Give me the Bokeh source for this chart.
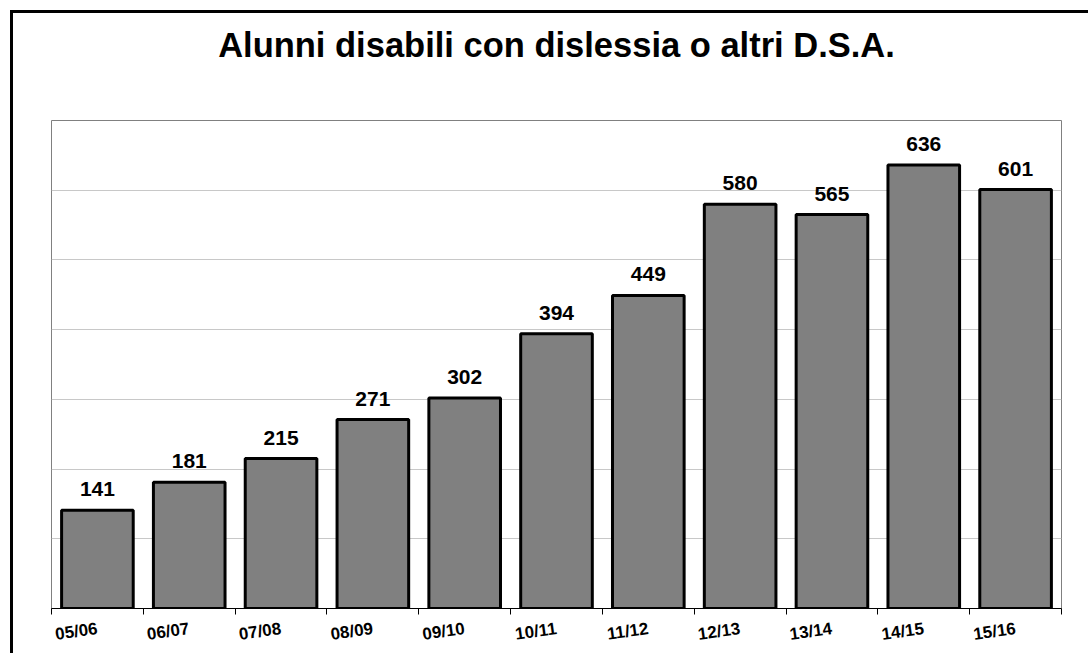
from bokeh.plotting import figure
from bokeh.models import Range1d, FixedTicker, ColumnDataSource, Title
from bokeh.core.properties import value
from bokeh.embed import file_html
from bokeh.resources import INLINE

years = ["05/06", "06/07", "07/08", "08/09", "09/10", "10/11",
         "11/12", "12/13", "13/14", "14/15", "15/16"]
counts = [141, 181, 215, 271, 302, 394, 449, 580, 565, 636, 601]
grid_values = [100, 200, 300, 400, 500, 600]
title_text = "Alunni disabili con dislessia o altri D.S.A."

FONT = "Liberation Sans"
Y_MAX = 700

xs = list(range(len(years)))
src = ColumnDataSource(data=dict(x=xs, top=counts, label=[str(c) for c in counts]))

W, H = 1075, 640
ML, MR, MT, MB = 38, 30, 107, 46

p = figure(width=W, height=H, output_backend="svg", toolbar_location=None,
           x_range=Range1d(-0.5, len(years) - 0.5), y_range=Range1d(0, Y_MAX),
           min_border_left=ML, min_border_right=MR, min_border_top=MT,
           min_border_bottom=MB, background_fill_color="white",
           border_fill_color="white")
p.styles = {"margin-left": "10px", "margin-top": "10px", "box-sizing": "content-box",
            "border-left": "3px solid black", "border-top": "3px solid black"}

# main title (outermost panel) and an empty spacer panel between it and the frame
p.title.text = title_text
p.title.align = "center"
p.title.text_font = FONT
p.title.text_font_style = "bold"
p.title.text_font_size = "34.5px"
p.title.text_color = "black"
p.title.standoff = 18
p.add_layout(Title(text=" ", text_font_size="1px", standoff=45), "above")

p.outline_line_color = "#808080"
p.outline_line_width = 1

p.xgrid.visible = False
p.ygrid.ticker = FixedTicker(ticks=grid_values)
p.ygrid.grid_line_color = "#c8c8c8"
p.ygrid.grid_line_width = 1
p.yaxis.visible = False

xa = p.xaxis[0]
xa.ticker = FixedTicker(ticks=xs, minor_ticks=[i - 0.5 for i in range(len(years) + 1)])
xa.major_label_overrides = {i: y for i, y in zip(xs, years)}
xa.major_tick_out = 0
xa.major_tick_in = 0
xa.minor_tick_out = 6
xa.minor_tick_in = 0
xa.minor_tick_line_color = "black"
xa.axis_line_color = "black"
xa.axis_line_width = 1
xa.major_label_orientation = 0.14
xa.major_label_standoff = 14
xa.major_label_text_font = FONT
xa.major_label_text_font_style = "bold"
xa.major_label_text_font_size = "17px"
xa.major_label_text_color = "black"

p.vbar(x="x", top="top", width=0.78, source=src, fill_color="#808080",
       line_color="black", line_width=3)

p.text(x="x", y="top", text="label", source=src, text_align="center",
       text_baseline="alphabetic", y_offset=-21, text_font=value(FONT),
       text_font_style="bold", text_font_size="21px", text_color="black")

open("out.html", "w").write(file_html(p, INLINE))
